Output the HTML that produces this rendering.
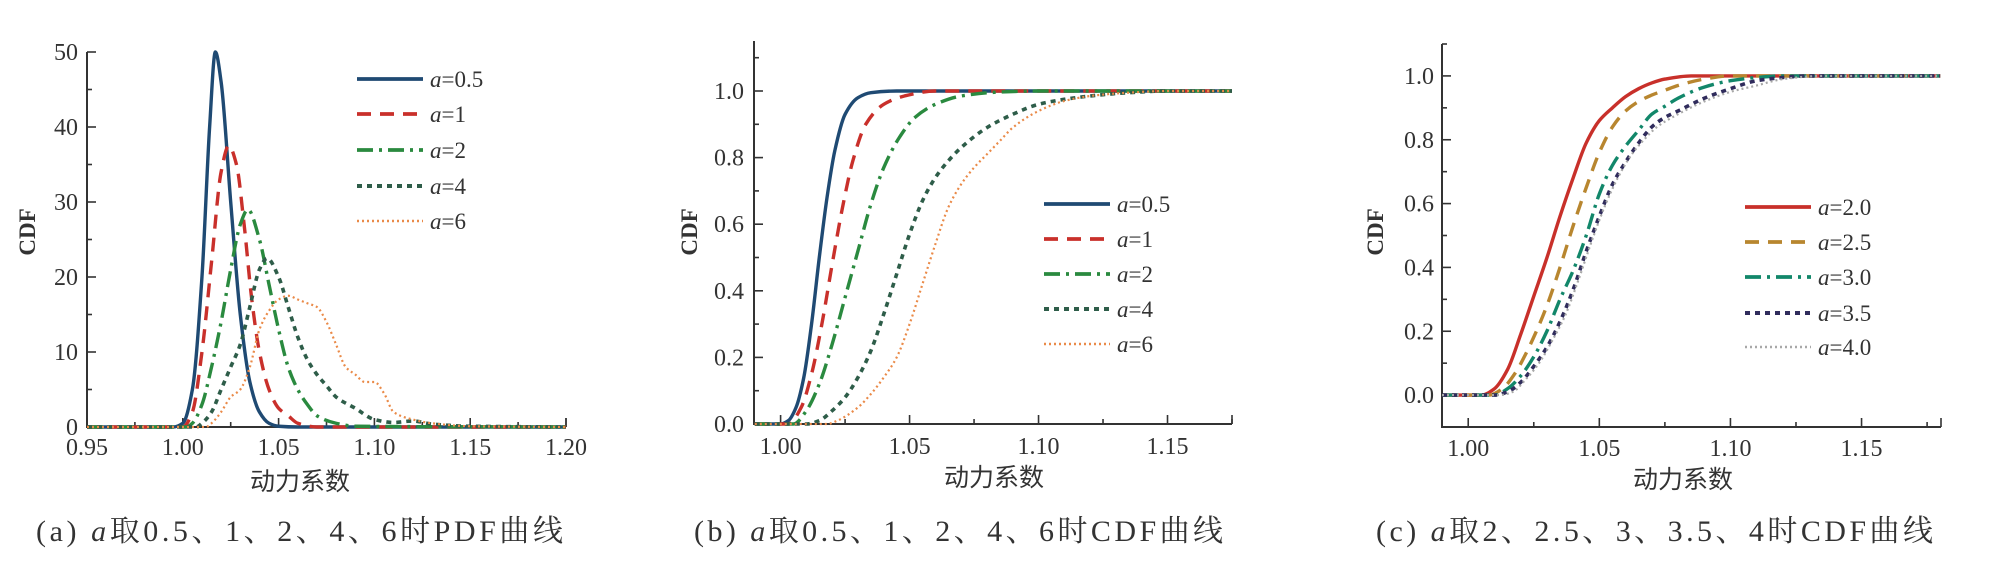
<!DOCTYPE html>
<html><head><meta charset="utf-8">
<style>
html,body{margin:0;padding:0;background:#fff;}
svg{display:block;}
</style></head>
<body>
<svg id="fig" width="1989" height="575" viewBox="0 0 1989 575" xmlns="http://www.w3.org/2000/svg"></svg>
<script>
// ---------- Panel (a) PDF data ----------
const pdfX05=[0.95,0.995,1.000,1.005,1.010,1.014,1.017,1.020,1.025,1.030,1.035,1.040,1.045,1.050,1.060,1.2];
const pdfY05=[0,0,0.5,5,20,40,50,46,30,15,6,2,0.5,0.1,0,0];
const pdfX1=[0.95,1.000,1.005,1.010,1.015,1.020,1.024,1.028,1.032,1.036,1.040,1.045,1.050,1.055,1.060,1.070,1.2];
const pdfY1=[0,0,2,10,22,34,37.5,35,27,17,10,5,2.5,1.5,0.5,0,0];
const pdfX2=[0.95,1.002,1.005,1.010,1.015,1.020,1.025,1.030,1.034,1.040,1.045,1.050,1.055,1.060,1.065,1.070,1.080,1.090,1.2];
const pdfY2=[0,0,0.5,3,8,14,21,27,29,25,19,13,8,5,3,1.5,0.5,0.1,0];
const pdfX4=[0.95,1.007,1.010,1.015,1.020,1.025,1.030,1.035,1.040,1.044,1.050,1.055,1.060,1.065,1.070,1.075,1.080,1.090,1.100,1.110,1.120,1.130,1.150,1.2];
const pdfY4=[0,0,0.5,2,5,8,11,16,21,22.5,20,16,12,9,7,5.5,4,2.5,1.0,0.6,0.8,0.4,0.1,0];
const pdfX6=[0.95,1.012,1.015,1.020,1.025,1.030,1.035,1.040,1.045,1.050,1.055,1.060,1.065,1.070,1.075,1.080,1.085,1.090,1.095,1.100,1.105,1.110,1.120,1.130,1.150,1.2];
const pdfY6=[0,0,0.5,2,4,5,8,13,15.5,17,17.5,17,16.5,16,14,11,8,7,6,6,4.5,2,1,0.5,0.1,0];
// ---------- Panel (b) CDF data ----------
const cdfBX05=[0.99,1.000,1.003,1.006,1.009,1.012,1.015,1.018,1.021,1.025,1.030,1.035,1.045,1.175];
const cdfBY05=[0,0,0.01,0.05,0.14,0.3,0.5,0.68,0.82,0.93,0.98,0.995,1,1];
const cdfBX1=[0.99,1.003,1.008,1.012,1.016,1.020,1.024,1.028,1.033,1.040,1.048,1.060,1.175];
const cdfBY1=[0,0,0.05,0.15,0.3,0.48,0.65,0.79,0.9,0.96,0.985,1,1];
const cdfBX2=[0.99,1.005,1.010,1.015,1.020,1.025,1.030,1.035,1.040,1.046,1.052,1.060,1.070,1.085,1.100,1.175];
const cdfBY2=[0,0,0.04,0.12,0.24,0.38,0.52,0.66,0.77,0.86,0.92,0.96,0.985,0.997,1,1];
const cdfBX4=[0.99,1.010,1.015,1.020,1.025,1.030,1.035,1.040,1.045,1.050,1.055,1.060,1.065,1.070,1.080,1.090,1.100,1.110,1.120,1.135,1.150,1.175];
const cdfBY4=[0,0,0.01,0.04,0.08,0.14,0.22,0.33,0.45,0.57,0.67,0.74,0.79,0.83,0.89,0.93,0.96,0.975,0.985,0.995,1,1];
const cdfBX6=[0.99,1.018,1.022,1.030,1.035,1.040,1.045,1.050,1.055,1.060,1.065,1.070,1.075,1.080,1.085,1.090,1.100,1.110,1.120,1.135,1.150,1.175];
const cdfBY6=[0,0,0.01,0.05,0.09,0.14,0.2,0.3,0.42,0.54,0.65,0.72,0.77,0.81,0.85,0.89,0.94,0.97,0.985,0.995,1,1];
// ---------- Panel (c) CDF data ----------
const cdfCX20=[0.99,1.005,1.010,1.015,1.020,1.025,1.030,1.035,1.040,1.045,1.050,1.055,1.060,1.065,1.070,1.075,1.085,1.18];
const cdfCY20=[0,0,0.02,0.08,0.19,0.31,0.43,0.56,0.68,0.79,0.86,0.9,0.935,0.96,0.978,0.99,1,1];
const cdfCX25=[0.99,1.008,1.013,1.018,1.022,1.026,1.030,1.035,1.040,1.045,1.050,1.055,1.060,1.065,1.070,1.075,1.080,1.090,1.100,1.18];
const cdfCY25=[0,0,0.02,0.07,0.13,0.2,0.28,0.4,0.53,0.65,0.76,0.84,0.89,0.92,0.94,0.955,0.97,0.99,1,1];
const cdfCX30=[0.99,1.010,1.015,1.020,1.025,1.030,1.035,1.040,1.045,1.050,1.055,1.060,1.065,1.070,1.075,1.080,1.090,1.100,1.110,1.120,1.18];
const cdfCY30=[0,0,0.02,0.06,0.12,0.2,0.3,0.39,0.5,0.63,0.72,0.78,0.83,0.88,0.905,0.93,0.965,0.985,0.995,1,1];
const cdfCX35=[0.99,1.010,1.015,1.020,1.025,1.030,1.035,1.040,1.045,1.050,1.055,1.060,1.065,1.070,1.075,1.080,1.090,1.100,1.110,1.120,1.130,1.18];
const cdfCY35=[0,0,0.01,0.04,0.09,0.15,0.23,0.33,0.45,0.56,0.66,0.73,0.79,0.84,0.87,0.89,0.93,0.96,0.985,0.995,1,1];
const cdfCX40=[0.99,1.012,1.017,1.022,1.027,1.032,1.037,1.042,1.047,1.052,1.057,1.062,1.067,1.072,1.080,1.090,1.100,1.110,1.120,1.135,1.18];
const cdfCY40=[0,0,0.01,0.05,0.1,0.17,0.25,0.36,0.48,0.59,0.68,0.75,0.8,0.84,0.88,0.92,0.95,0.97,0.99,1,1];

const xTicksA=["0.95","1.00","1.05","1.10","1.15","1.20"];
const yTicksA=["0","10","20","30","40","50"];
const xTicksBC=["1.00","1.05","1.10","1.15"];
const yTicksBC=["0.0","0.2","0.4","0.6","0.8","1.0"];
const legendA=["0.5","1","2","4","6"];
const legendC=["2.0","2.5","3.0","3.5","4.0"];

const SERIF='"Liberation Serif","Noto Serif CJK SC",serif';
const SANS='"Liberation Sans","Noto Sans CJK SC",sans-serif';
const NS="http://www.w3.org/2000/svg";
const svg=document.getElementById('fig');
function mk(tag,attrs,parent){const e=document.createElementNS(NS,tag);for(const k in attrs)e.setAttribute(k,attrs[k]);(parent||svg).appendChild(e);return e;}
// monotone cubic (Fritsch-Carlson) path
function smoothPath(pts){
  const n=pts.length;const dx=[],m=[],t=new Array(n);
  for(let i=0;i<n-1;i++){dx.push(pts[i+1][0]-pts[i][0]);m.push((pts[i+1][1]-pts[i][1])/dx[i]);}
  t[0]=m[0];t[n-1]=m[n-2];
  for(let i=1;i<n-1;i++){
    if(m[i-1]*m[i]<=0)t[i]=0;
    else{const w1=2*dx[i]+dx[i-1],w2=dx[i]+2*dx[i-1];t[i]=(w1+w2)/(w1/m[i-1]+w2/m[i]);}
  }
  let d="M"+pts[0][0].toFixed(2)+","+pts[0][1].toFixed(2);
  for(let i=0;i<n-1;i++){
    const h=dx[i]/3;
    d+=" C"+(pts[i][0]+h).toFixed(2)+","+(pts[i][1]+t[i]*h).toFixed(2)+" "+(pts[i+1][0]-h).toFixed(2)+","+(pts[i+1][1]-t[i+1]*h).toFixed(2)+" "+pts[i+1][0].toFixed(2)+","+pts[i+1][1].toFixed(2);
  }
  return d;
}
const styles={
 solid:{dash:"",w:3.4},
 dash:{dash:"14,9",w:3.4},
 dashdot:{dash:"16,6,3,6",w:3.4},
 dot:{dash:"5,5",w:3.6},
 fine:{dash:"2,3",w:2.2}
};
function panel(cfg){
  const g=mk('g',{});
  
  
  const sx=v=>cfg.x0+(v-cfg.xmin)/(cfg.xmax-cfg.xmin)*(cfg.x1-cfg.x0);
  const sy=v=>cfg.y0+(v-cfg.ymin)/(cfg.ymax-cfg.ymin)*(cfg.y1-cfg.y0);
  const ax=mk('path',{d:`M${cfg.x0},${cfg.yTop} L${cfg.x0},${cfg.y0} L${cfg.x1},${cfg.y0}`,stroke:'#333','stroke-width':2,fill:'none'},g);
  
  
  for(let v=cfg.xTickStart;v<=cfg.xmax+1e-9;v+=cfg.xMinor){
    const X=sx(v);const major=Math.abs(Math.round(v/cfg.xMajor)*cfg.xMajor-v)<1e-6;
    mk('line',{x1:X,x2:X,y1:cfg.y0,y2:cfg.y0-(major?9:5),stroke:'#333','stroke-width':1.6},g);
  }
  mk('line',{x1:cfg.x1,x2:cfg.x1,y1:cfg.y0,y2:cfg.y0-9,stroke:'#333','stroke-width':1.6},g);
  cfg.xTicks.forEach(t=>{const tx=mk('text',{x:sx(parseFloat(t)),y:cfg.xLabY,'font-size':24,'text-anchor':'middle','font-family':SERIF,fill:'#333'},g);tx.textContent=t;
    
    });
  for(let v=cfg.yTickStart;v<=cfg.yTickEnd+1e-9;v+=cfg.yMinor){
    const Y=sy(v);const major=Math.abs(Math.round(v/cfg.yMajor)*cfg.yMajor-v)<1e-6;
    mk('line',{x1:cfg.x0,x2:cfg.x0+(major?9:5),y1:Y,y2:Y,stroke:'#333','stroke-width':1.6},g);
  }
  cfg.yTicks.forEach(t=>{const tx=mk('text',{x:cfg.yLabX,y:sy(parseFloat(t))+8,'font-size':24,'text-anchor':'end','font-family':SERIF,fill:'#333'},g);tx.textContent=t;
    
    });
  const yl=mk('text',{x:0,y:0,'font-size':23,'font-weight':'bold','text-anchor':'middle','font-family':SERIF,fill:'#333',transform:`translate(${cfg.yTitleX},${cfg.yTitleY}) rotate(-90)`},g);
  yl.textContent="CDF";
  
  
  const xl=mk('text',{x:cfg.xTitleX,y:cfg.xTitleY,'font-size':25,'text-anchor':'middle','font-family':SANS,fill:'#333'},g);
  xl.textContent="动力系数";
  
  
  cfg.series.forEach((s,i)=>{
    const pts=s.x.map((v,j)=>[sx(v),sy(s.y[j])]);
    const st=styles[s.style];
    const p=mk('path',{d:smoothPath(pts),stroke:s.color,'stroke-width':st.w,fill:'none','stroke-dasharray':st.dash,'stroke-linejoin':'round'},g);
    
    
    const ly=cfg.legY[i];
    const ll=mk('line',{x1:cfg.legX,x2:cfg.legX+66,y1:ly,y2:ly,stroke:s.color,'stroke-width':st.w+0.4,'stroke-dasharray':st.dash},g);
    
    
    const lt=mk('text',{x:cfg.legX+73,y:ly+8,'font-size':23,'font-family':SERIF,fill:'#333'},g);
    lt.innerHTML='<tspan font-style="italic">a</tspan>='+s.label;
    
    
  });
  const cap=mk('text',{x:cfg.capX,y:541,'font-size':30,'font-family':SERIF,fill:'#333',textLength:cfg.capW,lengthAdjust:'spacing'},g);
  cap.innerHTML=cfg.caption;
  
  
}
const colA=["#1f4a73","#c9302b","#2a8a3f","#2e5d49","#ea8a48"];
const stA=["solid","dash","dashdot","dot","fine"];
panel({name:'chart-a-pdf',x0:87,x1:566,xmin:0.95,xmax:1.20,y0:427,y1:52,ymin:0,ymax:50,yTop:52,
  xTickStart:0.95,xMinor:0.025,xMajor:0.05,yTickStart:0,yTickEnd:50,yMinor:5,yMajor:10,
  xTicks:xTicksA,yTicks:yTicksA,xLabY:455,yLabX:78,yTitleX:35,yTitleY:232,xTitleX:300,xTitleY:490,
  legX:357,legY:[79,114,150,186,221],capX:36,capW:527,
  caption:'(a) <tspan font-style="italic">a</tspan>取0.5、1、2、4、6时PDF曲线',
  series:[{x:pdfX05,y:pdfY05},{x:pdfX1,y:pdfY1},{x:pdfX2,y:pdfY2},{x:pdfX4,y:pdfY4},{x:pdfX6,y:pdfY6}]
    .map((s,i)=>({...s,color:colA[i],style:stA[i],label:legendA[i]}))});
panel({name:'chart-b-cdf',x0:754,x1:1232,xmin:0.98969,xmax:1.175,y0:424,y1:91,ymin:0,ymax:1,yTop:41,
  xTickStart:1.0,xMinor:0.025,xMajor:0.05,yTickStart:0,yTickEnd:1.15,yMinor:0.1,yMajor:0.2,
  xTicks:xTicksBC,yTicks:yTicksBC,xLabY:454,yLabX:744,yTitleX:697,yTitleY:232,xTitleX:994,xTitleY:486,
  legX:1044,legY:[204,239,274,309,344],capX:694,capW:529,
  caption:'(b) <tspan font-style="italic">a</tspan>取0.5、1、2、4、6时CDF曲线',
  series:[{x:cdfBX05,y:cdfBY05},{x:cdfBX1,y:cdfBY1},{x:cdfBX2,y:cdfBY2},{x:cdfBX4,y:cdfBY4},{x:cdfBX6,y:cdfBY6}]
    .map((s,i)=>({...s,color:colA[i],style:stA[i],label:legendA[i]}))});
const colC=["#c8302a","#b8862f","#12876a","#302c5c","#a8a8a8"];
const stC=["solid","dash","dashdot","dot","fine"];
panel({name:'chart-c-cdf',x0:1442,x1:1941,xmin:0.99,xmax:1.1803,y0:427,y1:44,ymin:-0.1,ymax:1.1,yTop:44,
  xTickStart:1.0,xMinor:0.025,xMajor:0.05,yTickStart:-0.1,yTickEnd:1.1,yMinor:0.1,yMajor:0.2,
  xTicks:xTicksBC,yTicks:yTicksBC,xLabY:456,yLabX:1434,yTitleX:1383,yTitleY:232,xTitleX:1683,xTitleY:488,
  legX:1745,legY:[207,242,277,313,347],capX:1376,capW:557,
  caption:'(c) <tspan font-style="italic">a</tspan>取2、2.5、3、3.5、4时CDF曲线',
  series:[{x:cdfCX20,y:cdfCY20},{x:cdfCX25,y:cdfCY25},{x:cdfCX30,y:cdfCY30},{x:cdfCX35,y:cdfCY35},{x:cdfCX40,y:cdfCY40}]
    .map((s,i)=>({...s,color:colC[i],style:stC[i],label:legendC[i]}))});
</script>
</body></html>
